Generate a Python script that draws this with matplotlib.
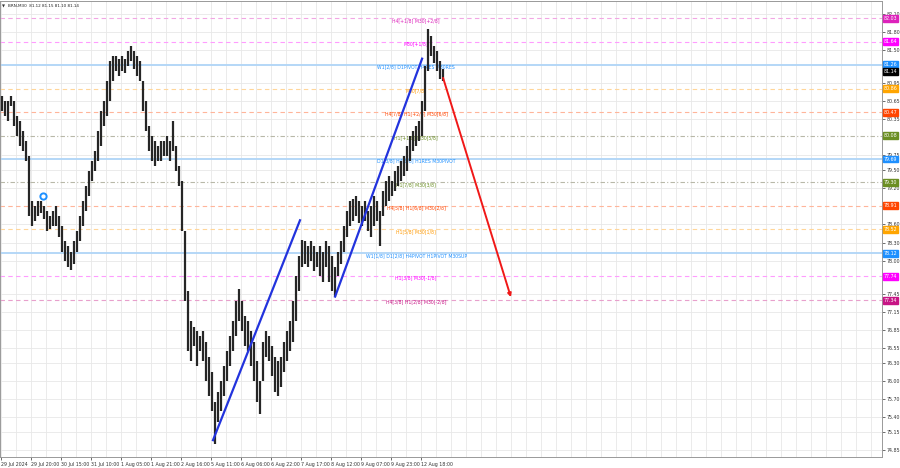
import matplotlib
matplotlib.use("Agg")
import matplotlib.pyplot as plt
import matplotlib.transforms as mtransforms

# ---------------- data ----------------
highs = [80.74, 80.65, 80.65, 80.74, 80.65, 80.40, 80.32, 80.15, 79.99, 79.74,
         78.99, 78.90, 78.99, 78.99, 78.90, 78.82, 78.74, 78.82, 78.90, 78.74,
         78.57, 78.32, 78.24, 78.15, 78.32, 78.49, 78.74, 78.99, 79.24, 79.49,
         79.65, 79.82, 80.15, 80.49, 80.65, 80.99, 81.32, 81.40, 81.40, 81.35,
         81.40, 81.35, 81.49, 81.57, 81.49, 81.40, 81.32, 80.99, 80.65, 80.24,
         80.07, 79.99, 79.90, 79.99, 79.99, 80.07, 79.99, 80.32, 79.90, 79.57,
         79.32, 78.49, 77.49, 76.99, 76.90, 76.82, 76.74, 76.82, 76.65, 76.40,
         76.15, 75.65, 75.82, 75.99, 76.24, 76.49, 76.74, 76.99, 77.32, 77.52,
         77.32, 77.07, 76.99, 76.82, 76.65, 76.32, 75.99, 76.65, 76.82, 76.74,
         76.57, 76.40, 76.32, 76.40, 76.65, 76.82, 76.99, 77.32, 77.74, 78.07,
         78.35, 78.32, 78.24, 78.32, 78.24, 78.15, 78.24, 78.15, 78.32, 78.24,
         78.07, 77.90, 78.15, 78.32, 78.57, 78.82, 78.99, 79.02, 79.07, 78.99,
         78.90, 78.99, 78.82, 78.90, 79.07, 78.99, 78.82, 79.15, 79.32, 79.40,
         79.32, 79.49, 79.57, 79.65, 79.74, 79.90, 80.07, 80.15, 80.24, 80.32,
         80.65, 81.24, 81.85, 81.74, 81.57, 81.49, 81.32, 81.19]
lows = [80.49, 80.40, 80.32, 80.57, 80.24, 80.07, 79.90, 79.82, 79.65, 78.74,
        78.57, 78.65, 78.74, 78.79, 78.69, 78.49, 78.52, 78.57, 78.57, 78.40,
        78.15, 77.99, 77.90, 77.85, 77.95, 78.15, 78.32, 78.57, 78.82, 79.07,
        79.32, 79.49, 79.65, 79.90, 80.24, 80.40, 80.65, 80.99, 81.15, 81.07,
        81.15, 81.12, 81.24, 81.32, 81.19, 81.07, 80.99, 80.49, 80.15, 79.82,
        79.65, 79.57, 79.65, 79.65, 79.74, 79.74, 79.65, 79.82, 79.49, 79.24,
        78.49, 77.32, 76.49, 76.32, 76.57, 76.24, 76.49, 76.32, 75.99, 75.74,
        75.49, 74.95, 75.32, 75.49, 75.74, 75.99, 76.24, 76.49, 76.74, 76.99,
        76.82, 76.57, 76.49, 76.24, 75.99, 75.65, 75.45, 75.99, 76.40, 76.32,
        76.07, 75.82, 75.74, 75.90, 76.15, 76.32, 76.49, 76.65, 76.99, 77.49,
        77.90, 77.95, 77.90, 77.99, 77.82, 77.90, 77.74, 77.65, 77.90, 77.65,
        77.49, 77.40, 77.74, 77.95, 78.15, 78.40, 78.57, 78.65, 78.74, 78.62,
        78.57, 78.65, 78.49, 78.40, 78.57, 78.65, 78.24, 78.74, 78.90, 78.99,
        79.07, 79.15, 79.24, 79.32, 79.40, 79.49, 79.65, 79.82, 79.90, 79.99,
        80.07, 80.49, 81.15, 81.40, 81.29, 81.15, 81.02, 80.99]

time_labels = ["29 Jul 2024", "29 Jul 20:00", "30 Jul 15:00", "31 Jul 10:00",
               "1 Aug 05:00", "1 Aug 21:00", "2 Aug 16:00", "5 Aug 11:00",
               "6 Aug 06:00", "6 Aug 22:00", "7 Aug 17:00", "8 Aug 12:00",
               "9 Aug 07:00", "9 Aug 23:00", "12 Aug 18:00"]
time_label_bars = [0, 10, 20, 30, 40, 50, 60, 70, 80, 90, 100, 110, 120, 130, 140]

price_ticks = [82.10, 81.80, 81.50, 80.95, 80.65, 80.35, 79.75, 79.50, 79.20,
               78.60, 78.30, 78.00, 77.45, 77.15, 76.85, 76.55, 76.30, 76.00,
               75.70, 75.40, 75.15, 74.85]

level_prices = [82.03, 81.64, 81.26, 80.86, 80.47, 80.08, 79.69, 79.30, 78.91,
                78.52, 78.12, 77.74, 77.34]
level_names = ["H4[+1/8] M30[+2/8]", "M30[+1/8]", "W1[2/8] D1PIVOT H4RES M30RES",
               "M30[7/8]", "H4[7/8] H1[+2/8] M30[6/8]", "H1[+1/8] M30[5/8]",
               "D1[3/8] H4[6/8] H1RES M30PIVOT", "H1[7/8] M30[3/8]",
               "H4[5/8] H1[6/8] M30[2/8]", "H1[5/8] M30[1/8]",
               "W1[1/8] D1[2/8] H4PIVOT H1PIVOT M30SUP", "H1[3/8] M30[-1/8]",
               "H4[3/8] H1[2/8] M30[-2/8]"]
level_kinds = ["pink", "magenta", "blue", "orange", "orangered", "olive", "blue",
               "olive", "orangered", "orange", "blue", "magenta", "violet"]

bid_price = 81.14
header = "BRN,M30  81.12 81.15 81.10 81.14"

trend1_bars = [70.5, 99.5]
trend1_prices = [75.01, 78.67]
trend2_bars = [111.2, 140.2]
trend2_prices = [77.40, 81.36]
arrow_bars = [147.2, 169.8]
arrow_prices = [81.04, 77.39]
marker_bar = 13.8
marker_price = 79.07

# ---------------- styles ----------------
kind_style = {
    "pink":      dict(box="#DD22BB", text="#DD22BB", line="#F2A6E4", ls=(0, (4, 3)), lw=0.8),
    "magenta":   dict(box="#FF00FF", text="#FF00FF", line="#FF9CFF", ls=(0, (4, 3)), lw=0.8),
    "blue":      dict(box="#1E90FF", text="#1E90FF", line="#B4D7F7", ls="-", lw=1.4),
    "orange":    dict(box="#FFA500", text="#FF9900", line="#FFD69A", ls=(0, (4, 3)), lw=0.8),
    "orangered": dict(box="#FF4500", text="#FF4500", line="#FFB59A", ls=(0, (4, 3)), lw=0.8),
    "olive":     dict(box="#6B8E23", text="#6B8E23", line="#B8B8A8", ls=(0, (4, 2, 1, 2)), lw=0.8),
    "violet":    dict(box="#C71585", text="#C71585", line="#E8A0CC", ls=(0, (4, 3)), lw=0.8),
}

FS_AXIS = 3.4
FS_LEVEL = 3.3

W, H = 900, 468
fig = plt.figure(figsize=(W / 100, H / 100), dpi=100)
ax = fig.add_axes([0.0, 11 / H, 882 / W, 1 - 12 / H])

ax.set_xlim(-0.5, 293.5)
ax.set_ylim(74.73, 82.32)

# grid
for gx in range(0, 294, 5):
    ax.axvline(gx - 0.17, color="#E8E8E8", lw=0.6, zorder=0)
for gy in price_ticks:
    ax.axhline(gy, color="#E8E8E8", lw=0.6, zorder=0)

# levels
label_x = 138.2
for p, name, kind in zip(level_prices, level_names, level_kinds):
    st = kind_style[kind]
    ax.axhline(p, color=st["line"], lw=st["lw"], ls=st["ls"], zorder=1)
    ax.annotate(name, xy=(label_x, p), xytext=(0, -1.5), textcoords="offset points",
                ha="center", va="center", fontsize=FS_LEVEL, color=st["text"], zorder=2)

# price bars
xs = list(range(len(highs)))
ax.vlines(xs, lows, highs, color="#262626", lw=1.6, zorder=3)

# trendlines and arrow
ax.plot(trend1_bars, trend1_prices, color="#2233DD", lw=1.6, zorder=4)
ax.plot(trend2_bars, trend2_prices, color="#2233DD", lw=1.6, zorder=4)
ax.annotate("", xy=(arrow_bars[1], arrow_prices[1]), xytext=(arrow_bars[0], arrow_prices[0]),
            arrowprops=dict(arrowstyle="-|>", color="#F01818", lw=1.4,
                            mutation_scale=5, shrinkA=0, shrinkB=0), zorder=4)
ax.plot([marker_bar], [marker_price], marker="o", ms=4.5, mfc="white",
        mec="#1E90FF", mew=1.4, zorder=5)

# header
ax.text(0.002, 0.993, "\u25BC", transform=ax.transAxes, fontsize=2.8,
        va="top", ha="left", color="#333333")
ax.text(0.009, 0.993, header, transform=ax.transAxes, fontsize=3.0,
        va="top", ha="left", color="#222222")

# axes styling
ax.yaxis.tick_right()
ax.set_yticks(price_ticks)
ax.set_yticklabels([f"{v:.2f}" for v in price_ticks])
ax.tick_params(axis="y", labelsize=FS_AXIS, length=2, width=0.5, pad=1.5,
               colors="#333333")
ax.set_xticks([b - 0.17 for b in time_label_bars])
ax.set_xticklabels(time_labels, ha="left")
ax.tick_params(axis="x", labelsize=FS_AXIS, length=2, width=0.5, pad=1.5,
               colors="#333333")
for s in ax.spines.values():
    s.set_color("#999999")
    s.set_linewidth(0.7)

# price boxes on the right axis
trans = mtransforms.blended_transform_factory(ax.transAxes, ax.transData)
for p, kind in zip(level_prices, level_kinds):
    st = kind_style[kind]
    ax.text(1.002, p, f"{p:.2f}", transform=trans, fontsize=FS_AXIS, color="white",
            ha="left", va="center", clip_on=False, zorder=6,
            bbox=dict(boxstyle="square,pad=0.2", fc=st["box"], ec=st["box"]))
ax.text(1.002, bid_price, f"{bid_price:.2f}", transform=trans, fontsize=FS_AXIS,
        color="white", ha="left", va="center", clip_on=False, zorder=7,
        bbox=dict(boxstyle="square,pad=0.2", fc="black", ec="black"))

fig.savefig("out.png", dpi=100)
